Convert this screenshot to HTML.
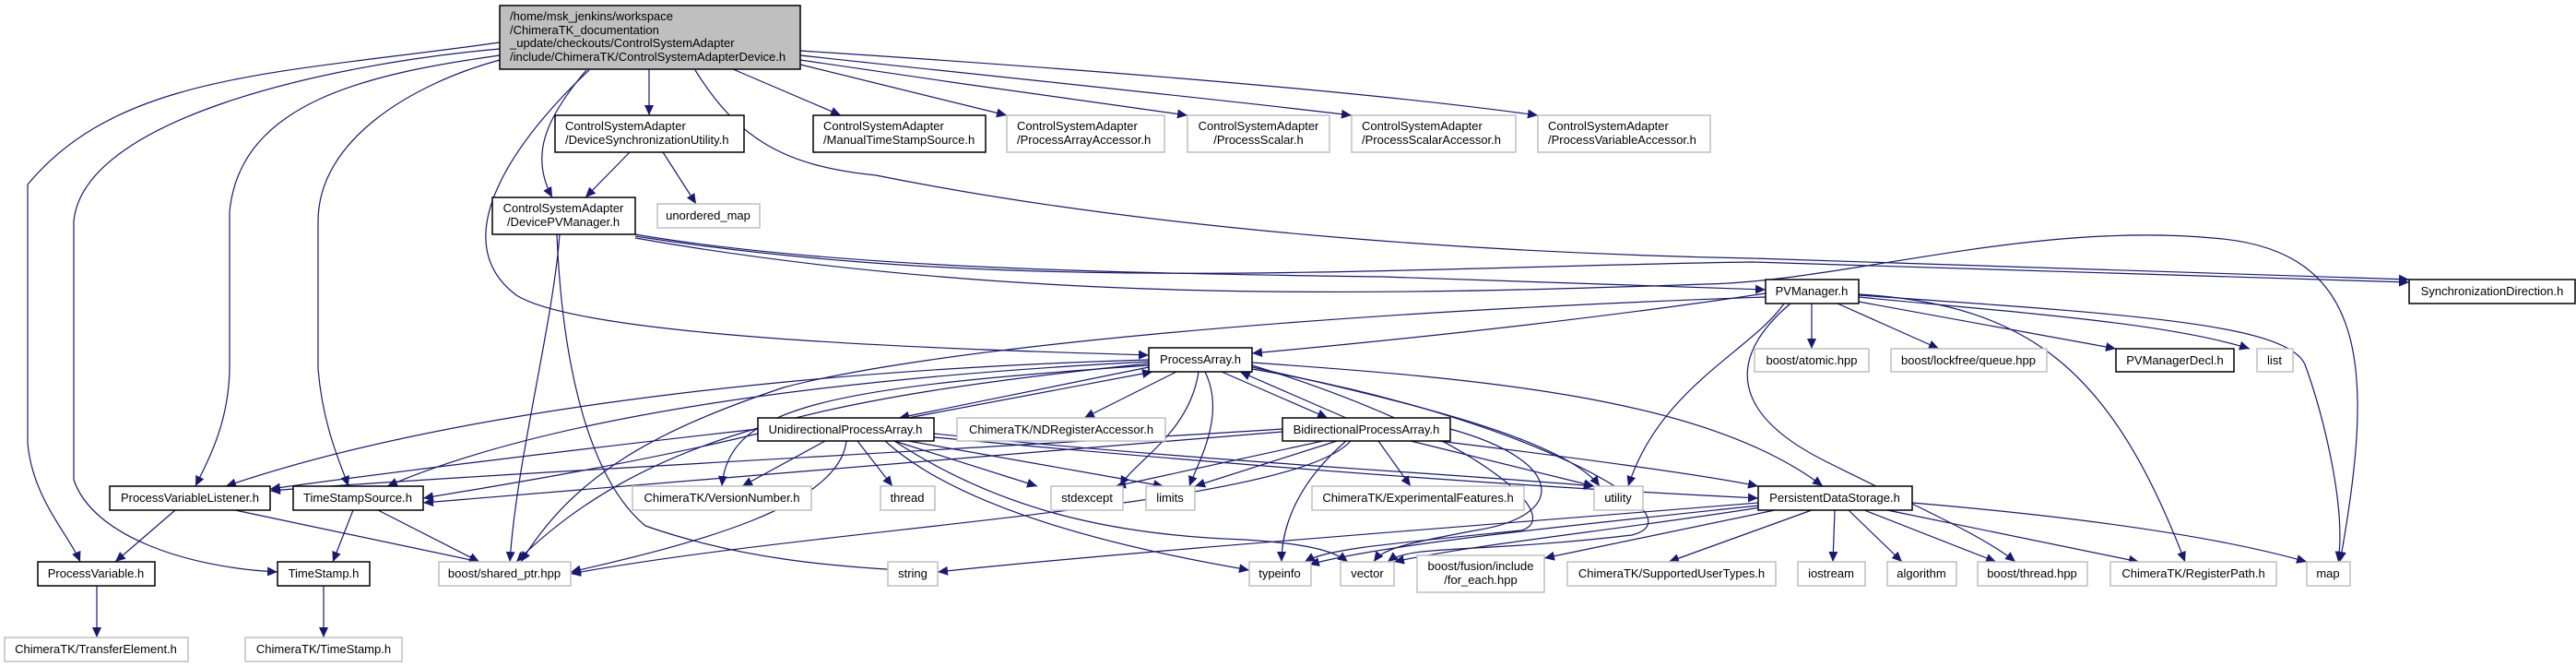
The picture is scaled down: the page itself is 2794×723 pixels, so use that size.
<!DOCTYPE html>
<html><head><meta charset="utf-8"><style>
html,body{margin:0;padding:0;background:#fff;}
svg{display:block;}
text{font-family:"Liberation Sans",sans-serif;font-size:13px;fill:#000;text-anchor:middle;}
.e{fill:none;stroke:#191970;stroke-width:1.2;marker-end:url(#a);}
.b{fill:#fff;stroke:#000;stroke-width:1.5;}
.g{fill:#fff;stroke:#bfbfbf;stroke-width:1.5;}
</style></head><body>
<svg width="2794" height="723" viewBox="0 0 2794 723" xmlns="http://www.w3.org/2000/svg">
<defs><marker id="a" markerUnits="userSpaceOnUse" markerWidth="12" markerHeight="10" refX="11" refY="5" orient="auto"><path d="M0,0 L11,5 L0,10 z" fill="#191970"/></marker></defs>

<!-- edges from root -->
<path class="e" d="M704,75 L704,125"/>
<path class="e" d="M795,75 L912,125"/>
<path class="e" d="M868,70 C950,90 1030,110 1092,125"/>
<path class="e" d="M868,65 C1000,85 1180,110 1288,125"/>
<path class="e" d="M868,60 C1050,80 1300,105 1466,125"/>
<path class="e" d="M868,55 C1100,70 1450,95 1668,125"/>
<path class="e" d="M636,76 C590,130 575,170 599,214"/>
<path class="e" d="M639,76 C560,150 480,260 560,320 C640,370 1100,380 1246,385"/>
<path class="e" d="M542,46 C300,80 130,80 30,200 L30,480 C35,540 75,580 87,609"/>
<path class="e" d="M542,53 C350,70 90,130 80,240 L80,520 C100,580 200,615 301,620"/>
<path class="e" d="M542,60 C400,80 260,110 249,230 L249,400 C248,460 225,500 212,527"/>
<path class="e" d="M542,65 C450,90 345,150 345,240 L345,400 C350,460 368,500 378,527"/>
<path class="e" d="M754,76 C800,150 850,180 950,190 C1300,260 1700,276 1900,280 L2613,303"/>

<!-- DSU -->
<path class="e" d="M683,165 L635,214"/>
<path class="e" d="M719,165 L755,221"/>

<!-- DevicePVManager -->
<path class="e" d="M689,254 C900,290 1200,296 1500,300 C1700,306 1850,312 1915,314"/>
<path class="e" d="M689,256 C1100,320 1500,290 1900,284 L2613,306"/>
<path class="e" d="M689,258 C1100,330 1500,320 1850,308 C2000,305 2200,240 2400,258 C2570,270 2576,400 2538,609"/>
<path class="e" d="M607,254 C600,350 560,500 553,609"/>
<path class="e" d="M604,254 C610,400 640,520 700,570 C800,605 900,615 1017,620"/>

<!-- PVManager -->
<path class="e" d="M1915,318 C1700,350 1500,370 1358,383"/>
<path class="e" d="M1965,329 L1965,378"/>
<path class="e" d="M1993,329 L2103,378"/>
<path class="e" d="M2016,327 L2295,378"/>
<path class="e" d="M2016,322 C2200,340 2350,350 2440,378"/>
<path class="e" d="M2016,320 C2300,340 2480,350 2500,395 C2520,450 2545,550 2536,609"/>
<path class="e" d="M2016,319 C2200,330 2290,400 2370,609"/>
<path class="e" d="M1942,329 C1870,390 1880,450 1980,500 C2080,550 2150,580 2186,609"/>
<path class="e" d="M1935,329 C1900,380 1800,420 1766,527"/>
<path class="e" d="M1915,322 C1400,340 1000,380 850,420 C700,470 620,520 565,609"/>

<!-- ProcessArray -->
<path class="e" d="M1276,403 L1176,453"/>
<path class="e" d="M1246,398 L975,453"/>
<path class="e" d="M985,453 L1250,403"/>
<path class="e" d="M1325,403 L1440,453"/>
<path class="e" d="M1460,453 L1345,403"/>
<path class="e" d="M1300,403 C1290,470 1230,500 1215,527"/>
<path class="e" d="M1307,403 C1330,450 1300,500 1290,527"/>
<path class="e" d="M1358,398 C1550,440 1700,480 1735,527"/>
<path class="e" d="M1358,393 C1600,410 1850,430 1977,527"/>
<path class="e" d="M1358,400 C1650,450 1850,560 1770,580 C1600,600 1530,590 1505,609"/>
<path class="e" d="M1358,396 C1600,470 1700,560 1650,575 C1500,590 1440,595 1415,609"/>
<path class="e" d="M1246,394 C900,430 700,470 560,609"/>
<path class="e" d="M1246,390 C900,400 500,440 245,527"/>
<path class="e" d="M1246,392 C900,410 600,450 420,527"/>
<path class="e" d="M1246,396 C900,420 790,440 783,527"/>

<!-- UPA -->
<path class="e" d="M822,465 C600,490 400,515 293,530"/>
<path class="e" d="M822,470 C700,500 550,525 459,540"/>
<path class="e" d="M895,478 L805,527"/>
<path class="e" d="M930,478 L968,527"/>
<path class="e" d="M970,478 L1125,527"/>
<path class="e" d="M985,478 L1262,527"/>
<path class="e" d="M1013,470 C1300,500 1600,515 1729,527"/>
<path class="e" d="M1013,474 C1400,510 1700,530 1907,540"/>
<path class="e" d="M918,478 C910,550 750,590 619,620"/>
<path class="e" d="M960,478 C1050,560 1250,600 1355,618"/>
<path class="e" d="M970,478 C1080,550 1200,580 1350,585 C1430,590 1450,600 1462,609"/>

<!-- BPA -->
<path class="e" d="M1391,465 C1000,490 500,515 293,532"/>
<path class="e" d="M1391,468 C1000,500 700,525 459,545"/>
<path class="e" d="M1435,478 L1210,527"/>
<path class="e" d="M1450,478 L1296,527"/>
<path class="e" d="M1495,478 L1530,527"/>
<path class="e" d="M1530,478 L1729,527"/>
<path class="e" d="M1560,478 C1700,495 1850,515 1907,527"/>
<path class="e" d="M1460,478 C1400,530 1390,580 1390,609"/>
<path class="e" d="M1465,478 C1400,550 900,570 619,622"/>
<path class="e" d="M1573,465 C1700,500 1700,560 1600,575 C1520,590 1500,595 1490,609"/>

<!-- PDS -->
<path class="e" d="M1907,545 C1600,570 1200,600 1017,620"/>
<path class="e" d="M1907,548 C1700,570 1500,590 1420,612"/>
<path class="e" d="M1910,550 C1750,575 1600,590 1512,609"/>
<path class="e" d="M1925,553 L1675,605"/>
<path class="e" d="M1965,553 L1810,609"/>
<path class="e" d="M1990,553 L1988,609"/>
<path class="e" d="M2005,553 L2063,609"/>
<path class="e" d="M2022,553 L2165,609"/>
<path class="e" d="M2047,553 L2320,609"/>
<path class="e" d="M2074,545 C2250,560 2400,580 2502,609"/>

<!-- lower -->
<path class="e" d="M190,553 L125,609"/>
<path class="e" d="M255,553 L520,609"/>
<path class="e" d="M383,553 L361,609"/>
<path class="e" d="M410,553 L520,609"/>
<path class="e" d="M105,635 L105,691"/>
<path class="e" d="M351,635 L351,691"/>

<!-- nodes -->
<rect x="542" y="6" width="326" height="69" fill="#bfbfbf" stroke="#000" stroke-width="1.5"/>
<text x="553" y="22" style="text-anchor:start">/home/msk_jenkins/workspace</text>
<text x="553" y="37" style="text-anchor:start">/ChimeraTK_documentation</text>
<text x="553" y="51" style="text-anchor:start">_update/checkouts/ControlSystemAdapter</text>
<text x="553" y="66" style="text-anchor:start">/include/ChimeraTK/ControlSystemAdapterDevice.h</text>

<rect class="b" x="602" y="125" width="205" height="40"/>
<text x="613" y="141" style="text-anchor:start">ControlSystemAdapter</text>
<text x="613" y="156" style="text-anchor:start">/DeviceSynchronizationUtility.h</text>
<rect class="b" x="882" y="125" width="187" height="40"/>
<text x="893" y="141" style="text-anchor:start">ControlSystemAdapter</text>
<text x="893" y="156" style="text-anchor:start">/ManualTimeStampSource.h</text>
<rect class="g" x="1092" y="125" width="171" height="40"/>
<text x="1103" y="141" style="text-anchor:start">ControlSystemAdapter</text>
<text x="1103" y="156" style="text-anchor:start">/ProcessArrayAccessor.h</text>
<rect class="g" x="1288" y="125" width="154" height="40"/>
<text x="1365" y="141">ControlSystemAdapter</text>
<text x="1365" y="156">/ProcessScalar.h</text>
<rect class="g" x="1466" y="125" width="178" height="40"/>
<text x="1477" y="141" style="text-anchor:start">ControlSystemAdapter</text>
<text x="1477" y="156" style="text-anchor:start">/ProcessScalarAccessor.h</text>
<rect class="g" x="1668" y="125" width="187" height="40"/>
<text x="1679" y="141" style="text-anchor:start">ControlSystemAdapter</text>
<text x="1679" y="156" style="text-anchor:start">/ProcessVariableAccessor.h</text>

<rect class="b" x="534" y="214" width="155" height="40"/>
<text x="611" y="230">ControlSystemAdapter</text>
<text x="611" y="245">/DevicePVManager.h</text>
<rect class="g" x="713" y="221" width="111" height="26"/>
<text x="768" y="238">unordered_map</text>

<rect class="b" x="1915" y="303" width="101" height="26"/><text x="1965" y="320">PVManager.h</text>
<rect class="b" x="2613" y="303" width="180" height="26"/><text x="2703" y="320">SynchronizationDirection.h</text>
<rect class="g" x="1903" y="378" width="124" height="25"/><text x="1965" y="395">boost/atomic.hpp</text>
<rect class="g" x="2051" y="378" width="169" height="25"/><text x="2135" y="395">boost/lockfree/queue.hpp</text>
<rect class="b" x="2295" y="378" width="128" height="25"/><text x="2359" y="395">PVManagerDecl.h</text>
<rect class="g" x="2448" y="378" width="39" height="25"/><text x="2467" y="395">list</text>

<rect class="b" x="1246" y="377" width="112" height="26"/><text x="1302" y="394">ProcessArray.h</text>
<rect class="b" x="822" y="453" width="191" height="25"/><text x="917" y="470">UnidirectionalProcessArray.h</text>
<rect class="g" x="1038" y="453" width="226" height="25"/><text x="1151" y="470">ChimeraTK/NDRegisterAccessor.h</text>
<rect class="b" x="1391" y="453" width="182" height="25"/><text x="1482" y="470">BidirectionalProcessArray.h</text>

<rect class="b" x="119" y="527" width="174" height="26"/><text x="206" y="544">ProcessVariableListener.h</text>
<rect class="b" x="318" y="527" width="141" height="26"/><text x="388" y="544">TimeStampSource.h</text>
<rect class="g" x="686" y="527" width="194" height="26"/><text x="783" y="544">ChimeraTK/VersionNumber.h</text>
<rect class="g" x="955" y="527" width="59" height="26"/><text x="984" y="544">thread</text>
<rect class="g" x="1140" y="527" width="78" height="26"/><text x="1179" y="544">stdexcept</text>
<rect class="g" x="1243" y="527" width="53" height="26"/><text x="1269" y="544">limits</text>
<rect class="g" x="1423" y="527" width="230" height="26"/><text x="1538" y="544">ChimeraTK/ExperimentalFeatures.h</text>
<rect class="g" x="1729" y="527" width="53" height="26"/><text x="1755" y="544">utility</text>
<rect class="b" x="1907" y="527" width="167" height="26"/><text x="1990" y="544">PersistentDataStorage.h</text>

<rect class="b" x="41" y="609" width="127" height="26"/><text x="104" y="626">ProcessVariable.h</text>
<rect class="b" x="301" y="609" width="100" height="26"/><text x="351" y="626">TimeStamp.h</text>
<rect class="g" x="476" y="609" width="143" height="26"/><text x="547" y="626">boost/shared_ptr.hpp</text>
<rect class="g" x="963" y="609" width="54" height="26"/><text x="990" y="626">string</text>
<rect class="g" x="1355" y="609" width="67" height="26"/><text x="1388" y="626">typeinfo</text>
<rect class="g" x="1454" y="609" width="58" height="26"/><text x="1483" y="626">vector</text>
<rect class="g" x="1537" y="602" width="138" height="40"/>
<text x="1606" y="618">boost/fusion/include</text><text x="1606" y="633">/for_each.hpp</text>
<rect class="g" x="1700" y="609" width="226" height="26"/><text x="1813" y="626">ChimeraTK/SupportedUserTypes.h</text>
<rect class="g" x="1950" y="609" width="73" height="26"/><text x="1986" y="626">iostream</text>
<rect class="g" x="2047" y="609" width="75" height="26"/><text x="2084" y="626">algorithm</text>
<rect class="g" x="2145" y="609" width="119" height="26"/><text x="2204" y="626">boost/thread.hpp</text>
<rect class="g" x="2289" y="609" width="180" height="26"/><text x="2379" y="626">ChimeraTK/RegisterPath.h</text>
<rect class="g" x="2502" y="609" width="47" height="26"/><text x="2525" y="626">map</text>

<rect class="g" x="5" y="691" width="199" height="26"/><text x="104" y="708">ChimeraTK/TransferElement.h</text>
<rect class="g" x="266" y="691" width="170" height="26"/><text x="351" y="708">ChimeraTK/TimeStamp.h</text>
</svg>
</body></html>
